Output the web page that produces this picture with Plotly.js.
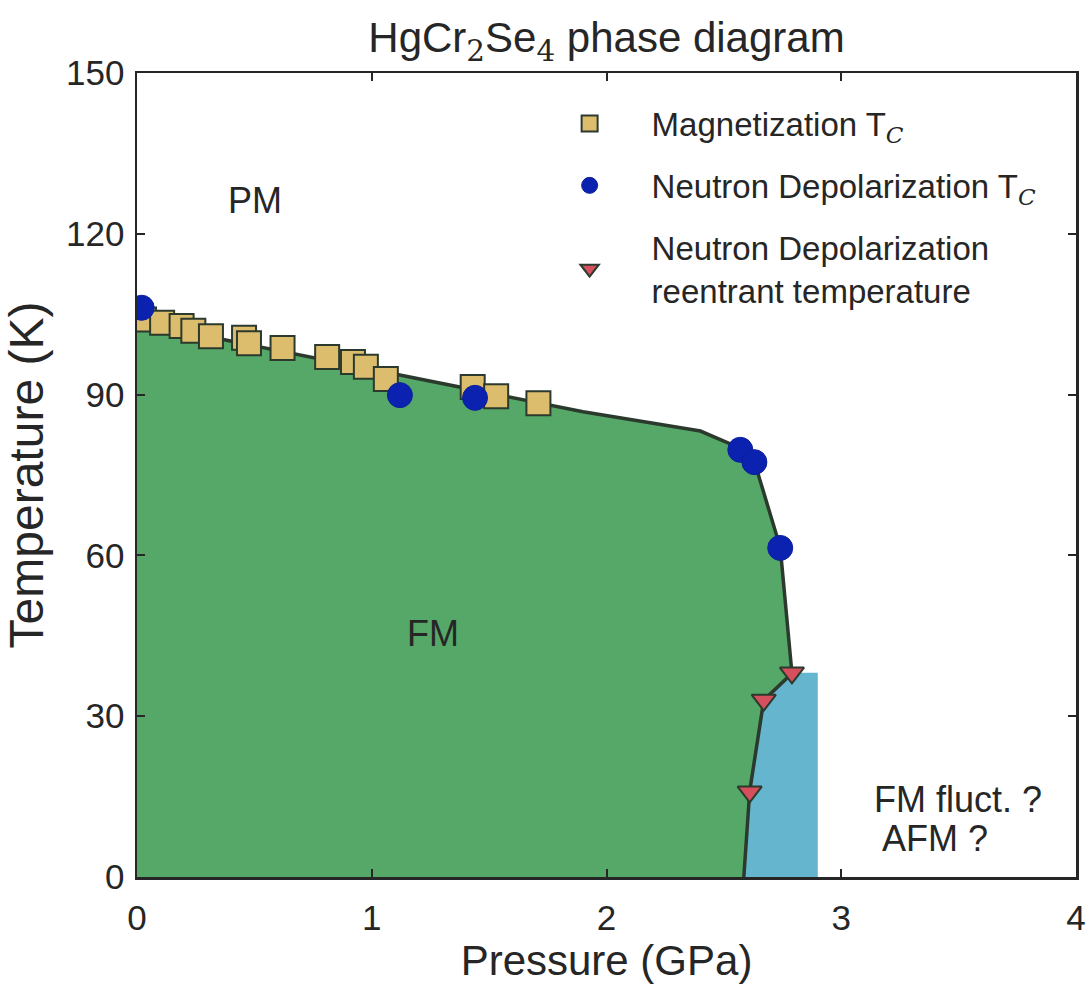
<!DOCTYPE html>
<html>
<head>
<meta charset="utf-8">
<script src="https://cdn.plot.ly/plotly-3.0.1.min.js"></script>
<style>html,body{margin:0;padding:0;background:#fff;}#chart{width:1091px;height:991px;}</style>
</head>
<body>
<div id="chart"></div>
<script>
// Magnetization T_C (pressure in GPa, temperature in K)
const magP = [0.03, 0.107, 0.19, 0.24, 0.315, 0.456, 0.477, 0.62, 0.81, 0.92, 0.975, 1.06, 1.43, 1.53, 1.71];
const magT = [104.0, 103.4, 102.8, 101.9, 100.9, 100.6, 99.6, 98.7, 97.0, 96.1, 95.2, 92.9, 91.4, 89.7, 88.4];
// Neutron depolarization T_C
const neuP = [0.02, 1.12, 1.44, 2.57, 2.63, 2.74];
const neuT = [106.2, 89.9, 89.4, 79.7, 77.4, 61.4];
// Neutron depolarization reentrant temperature
const reP = [2.79, 2.67, 2.61];
const reT = [38.1, 33.0, 15.9];
// FM / PM phase boundary (guide line)
const boundP = [0, 1.9, 2.4, 2.57, 2.63, 2.74, 2.79, 2.67, 2.61, 2.585];
const boundT = [103.5, 86.8, 83.2, 80.0, 77.5, 61.5, 38.0, 33.0, 16.0, 0];
// FM fluctuation region (pressure span, temperature span)
const fluctP = [2.5, 2.9];
const fluctT = [0, 38.1];
// Axis ticks
const xTicks = [0, 1, 2, 3, 4];
const yTicks = [0, 30, 60, 90, 120, 150];
// Region labels
const labelText = ['PM', 'FM'];
const labelP = [0.503, 1.259];
const labelT = [126.3, 45.5];
const noteText = ['FM fluct. ?', 'AFM ?'];
const noteP = [3.131, 3.165];
const noteT = [14.5, 7.1];

const FONT = 'Liberation Sans, Arial, sans-serif';
const TXT = '#262626';
const EDGE = '#2b3a2d';
const subC = '<sub><span style="font-family:DejaVu Serif;font-style:italic">C</span></sub>';

const traces = [
  {
    x: boundP, y: boundT, type: 'scatter', mode: 'lines',
    fill: 'tozerox', fillcolor: '#55A868',
    line: {color: EDGE, width: 3.5},
    showlegend: false, hoverinfo: 'skip'
  },
  {
    x: magP, y: magT, type: 'scatter', mode: 'markers',
    name: 'Magnetization T' + subC, legendgroup: 'a',
    marker: {symbol: 'square', size: 24, color: '#dcbd6e', line: {color: EDGE, width: 2}}
  },
  {
    x: neuP, y: neuT, type: 'scatter', mode: 'markers',
    name: 'Neutron Depolarization T' + subC, legendgroup: 'b',
    marker: {symbol: 'circle', size: 25, color: '#0b22b0', line: {color: '#0b1f9a', width: 1}}
  },
  {
    x: reP, y: reT, type: 'scatter', mode: 'markers',
    name: 'Neutron Depolarization<br>reentrant temperature', legendgroup: 'c',
    marker: {symbol: 'triangle-down', size: 21, color: '#d64f5d', line: {color: EDGE, width: 2}}
  }
];

const annotations = [];
labelText.forEach((t, i) => annotations.push({
  x: labelP[i], y: labelT[i], xref: 'x', yref: 'y', text: t, showarrow: false,
  xanchor: 'center', yanchor: 'middle', font: {family: FONT, size: 36, color: TXT}
}));
noteText.forEach((t, i) => annotations.push({
  x: noteP[i], y: noteT[i], xref: 'x', yref: 'y', text: t, showarrow: false,
  xanchor: 'left', yanchor: 'middle', font: {family: FONT, size: 36, color: TXT}
}));

const axisCommon = {
  showgrid: false, zeroline: false, showline: true, mirror: 'ticks',
  linecolor: TXT, linewidth: 2.5,
  ticks: 'inside', ticklen: 8, tickwidth: 2, tickcolor: TXT,
  tickfont: {family: FONT, size: 35, color: TXT}
};

const layout = {
  width: 1091, height: 991,
  margin: {l: 137, r: 15, t: 73, b: 114},
  paper_bgcolor: '#ffffff', plot_bgcolor: '#ffffff',
  font: {family: FONT, color: TXT},
  title: {
    text: 'HgCr<sub><span style="font-family:DejaVu Serif">2</span></sub>Se<sub><span style="font-family:DejaVu Serif">4</span></sub> phase diagram',
    font: {family: FONT, size: 42, color: TXT},
    x: 0.5, xref: 'paper', xanchor: 'center', y: 0.962, yref: 'container', yanchor: 'middle'
  },
  xaxis: Object.assign({}, axisCommon, {
    range: [xTicks[0], xTicks[xTicks.length - 1]], tickvals: xTicks, ticktext: xTicks.map(String),
    ticklabelstandoff: 8,
    title: {text: 'Pressure (GPa)', font: {family: FONT, size: 42, color: TXT}, standoff: 10}
  }),
  yaxis: Object.assign({}, axisCommon, {
    range: [yTicks[0], yTicks[yTicks.length - 1]], tickvals: yTicks, ticktext: yTicks.map(String),
    ticklabelstandoff: 3,
    title: {text: 'Temperature (K)', font: {family: FONT, size: 48, color: TXT}, standoff: 8}
  }),
  shapes: [{
    type: 'rect', xref: 'x', yref: 'y', layer: 'below',
    x0: fluctP[0], x1: fluctP[1], y0: fluctT[0], y1: fluctT[1],
    fillcolor: '#64B5CD', line: {width: 0}
  }],
  legend: {
    x: 0.416, y: 0.972, xanchor: 'left', yanchor: 'top', xref: 'paper', yref: 'paper',
    bgcolor: 'rgba(0,0,0,0)', borderwidth: 0,
    font: {family: FONT, size: 33, color: TXT},
    itemwidth: 114, tracegroupgap: 16, itemsizing: 'trace'
  },
  annotations: annotations,
  showlegend: true
};

Plotly.newPlot('chart', traces, layout, {staticPlot: true, displayModeBar: false});
</script>
</body>
</html>
